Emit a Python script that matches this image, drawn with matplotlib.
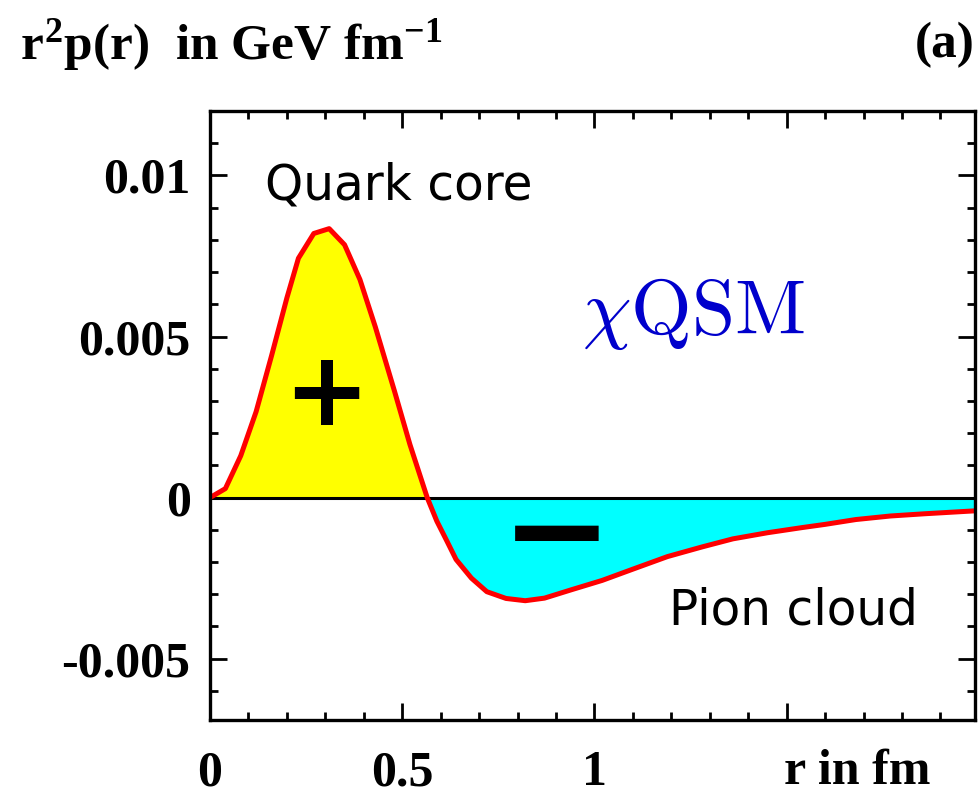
#!/usr/bin/env python
import numpy as np
import matplotlib
matplotlib.use('Agg')
import matplotlib.pyplot as plt
from matplotlib.ticker import MultipleLocator

# r in fm, r^2 p(r) in units of 1e-3 GeV/fm
r = [0.0, 0.04, 0.08, 0.12, 0.16, 0.20, 0.23, 0.27, 0.31, 0.35, 0.39, 0.43,
     0.48, 0.52, 0.565, 0.59, 0.615, 0.64, 0.68, 0.72, 0.77, 0.82, 0.87, 0.94,
     1.02, 1.10, 1.19, 1.28, 1.36, 1.45, 1.54, 1.60, 1.68, 1.77, 1.86, 1.99]
p_milli = [0.0, 0.28, 1.3, 2.67, 4.4, 6.2, 7.43, 8.2, 8.35, 7.85, 6.77, 5.3,
           3.3, 1.65, 0.0, -0.73, -1.32, -1.92, -2.5, -2.92, -3.13, -3.2, -3.12, -2.86,
           -2.57, -2.22, -1.83, -1.53, -1.28, -1.09, -0.93, -0.83, -0.68, -0.57, -0.5, -0.41]

yticks = [-0.005, 0.0, 0.005, 0.01]
ytick_labels = ['-0.005', '0', '0.005', '0.01']
xticks = [0.0, 0.5, 1.0, 1.5]
xtick_labels = ['0', '0.5', '1', '']

label_font = 'Liberation Serif'
note_font = 'DejaVu Sans'


def main():
    x = np.array(r)
    y = np.array(p_milli) * 1e-3

    fig = plt.figure(figsize=(9.79, 7.99), dpi=100)
    ax = fig.add_axes([0.2145, 0.099, 0.7815, 0.762])

    ax.fill_between(x, y, 0, where=y >= 0, interpolate=True, color='#ffff00', lw=0)
    ax.fill_between(x, y, 0, where=y <= 0, interpolate=True, color='#00ffff', lw=0)
    ax.axhline(0, color='black', lw=2.2)
    ax.plot(x, y, color='#ff0000', lw=3.6)

    ax.set_xlim(0, 1.99)
    ax.set_ylim(-0.0069, 0.012)

    for s in ax.spines.values():
        s.set_linewidth(2.4)
    ax.xaxis.set_minor_locator(MultipleLocator(0.1))
    ax.yaxis.set_minor_locator(MultipleLocator(0.001))
    ax.tick_params(which='both', direction='in', top=True, right=True, width=2.0)
    ax.tick_params(which='major', length=12)
    ax.tick_params(which='minor', length=6)
    ax.tick_params(axis='x', which='major', pad=22)
    ax.tick_params(axis='y', which='major', pad=14)

    ax.set_xticks(xticks)
    ax.set_xticklabels(xtick_labels, fontfamily=label_font, fontweight='bold', fontsize=36)
    ax.set_yticks(yticks)
    ax.set_yticklabels(ytick_labels, fontfamily=label_font, fontweight='bold', fontsize=36)

    # annotations
    ax.text(0.143, 0.0097, 'Quark core', fontfamily=note_font, fontsize=35,
            ha='left', va='center')
    ax.text(1.193, -0.0035, 'Pion cloud', fontfamily=note_font, fontsize=35,
            ha='left', va='center')
    ax.text(1.258, 0.0057, r'$\chi\mathrm{QSM}$', color='#0000cc', fontsize=56,
            ha='center', va='center', math_fontfamily='cm')
    ax.text(0.302, 0.00315, '+', fontfamily=note_font, fontweight='bold', fontsize=74,
            ha='center', va='center')
    ax.text(0.901, -0.00126, '\u2212', fontfamily=note_font, fontweight='bold', fontsize=96,
            ha='center', va='center')

    plt.rcParams['mathtext.fontset'] = 'custom'
    plt.rcParams['mathtext.rm'] = label_font + ':bold'
    plt.rcParams['mathtext.it'] = label_font + ':bold'
    plt.rcParams['mathtext.bf'] = label_font + ':bold'
    fig.text(0.02, 1 - 45 / 799., r'$r^2p(r)$  in GeV fm$^{-1}$', fontfamily=label_font,
             fontweight='bold', fontsize=37, ha='left', va='center', math_fontfamily='custom')
    fig.text(0.996, 1 - 45 / 799., '(a)', fontfamily=label_font, fontweight='bold',
             fontsize=37, ha='right', va='center')
    fig.text(857 / 979., 1 - 772 / 799., 'r in fm', fontfamily=label_font, fontweight='bold',
             fontsize=36, ha='center', va='center')

    fig.savefig('out.png', dpi=100)


if __name__ == '__main__':
    main()
